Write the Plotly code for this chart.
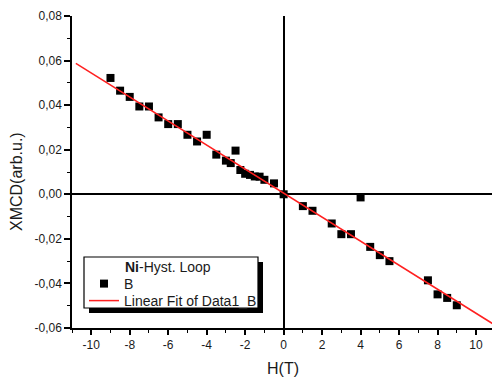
import plotly.graph_objects as go

# Measured XMCD signal of the Ni hysteresis loop
H_FIELD = [-9.0, -8.5, -8.0, -7.5, -7.0, -6.5, -6.0, -5.5, -5.0, -4.5, -4.0,
           -3.5, -3.0, -2.75, -2.5, -2.25, -2.0, -1.75, -1.5, -1.25, -1.0, -0.5,
           0.0, 1.0, 1.5, 2.5, 3.0, 3.5, 4.0, 4.5, 5.0, 5.5, 7.5, 8.0, 8.5, 9.0]
XMCD = [0.0522, 0.0465, 0.0437, 0.0394, 0.0394, 0.0345, 0.0315, 0.0315, 0.0267,
        0.0237, 0.0267, 0.0178, 0.0151, 0.0140, 0.0196, 0.0109, 0.0092, 0.0087,
        0.0080, 0.0079, 0.0065, 0.0049, 0.0000, -0.0053, -0.0074, -0.0131,
        -0.0179, -0.0179, -0.0014, -0.0236, -0.0273, -0.0300, -0.0386, -0.0449,
        -0.0465, -0.0498]

# Linear fit parameters (slope in arb.u./T, intercept in arb.u.)
FIT_SLOPE = -0.00539
FIT_INTERCEPT = 0.0005
FIT_DOMAIN = [-10.8, 11.0]

X_TICKS = [-10, -8, -6, -4, -2, 0, 2, 4, 6, 8, 10]
X_TICK_LABELS = ["-10", "-8", "-6", "-4", "-2", "0", "2", "4", "6", "8", "10"]
Y_TICKS = [-0.06, -0.04, -0.02, 0.0, 0.02, 0.04, 0.06, 0.08]
Y_TICK_LABELS = ["-0,06", "-0,04", "-0,02", "0,00", "0,02", "0,04", "0,06", "0,08"]

X_RANGE = [-11, 10.83]
Y_RANGE = [-0.06, 0.08]

FONT = "Arial"
INK = "#1a1a1a"

fit_y = [FIT_SLOPE * h + FIT_INTERCEPT for h in FIT_DOMAIN]

fig = go.Figure()
fig.add_trace(go.Scatter(
    x=H_FIELD, y=XMCD, mode="markers", name="B", legend="legend",
    marker=dict(symbol="square", size=8, color="black", line=dict(width=0)),
))
fig.add_trace(go.Scatter(
    x=FIT_DOMAIN, y=fit_y, mode="lines", name="Linear Fit of Data1_B",
    legend="legend2",
    line=dict(color="#ff2020", width=1.5),
))

W, Hh = 492, 378
ML, MR, MT, MB = 72, 0, 16, 50
PW, PH = W - ML - MR, Hh - MT - MB


def px(x):
    return (x - ML) / PW


def py(y):
    return (Hh - MB - y) / PH


tick_font = dict(family=FONT, size=12, color=INK)
legend_style = dict(
    xanchor="left", yanchor="top",
    bgcolor="rgba(0,0,0,0)", borderwidth=0,
    tracegroupgap=0, itemwidth=30,
    font=dict(family=FONT, size=14, color=INK),
)

fig.update_layout(
    width=W, height=Hh,
    margin=dict(l=ML, r=MR, t=MT, b=MB),
    paper_bgcolor="white", plot_bgcolor="white",
    font=dict(family=FONT, color=INK),
    showlegend=True,
    legend=dict(x=px(84), y=py(268), **legend_style),
    legend2=dict(x=px(84), y=py(285), **legend_style),
    xaxis=dict(
        range=X_RANGE, tickvals=X_TICKS, ticktext=X_TICK_LABELS,
        ticks="outside", ticklen=5, tickwidth=1.5, tickcolor="black",
        minor=dict(dtick=1, ticks="outside", ticklen=3, tickwidth=1.2, tickcolor="black"),
        showline=True, linecolor="black", linewidth=1.5,
        zeroline=True, zerolinecolor="black", zerolinewidth=1.5,
        showgrid=False, tickfont=tick_font,
    ),
    yaxis=dict(
        range=Y_RANGE, tickvals=Y_TICKS, ticktext=Y_TICK_LABELS,
        ticks="outside", ticklen=6, tickwidth=1.5, tickcolor="black",
        minor=dict(dtick=0.01, ticks="outside", ticklen=3, tickwidth=1.2, tickcolor="black"),
        showline=True, linecolor="black", linewidth=1.5,
        zeroline=True, zerolinecolor="black", zerolinewidth=1.5,
        showgrid=False, tickfont=tick_font,
    ),
    xaxis2=dict(
        overlaying="x", side="top", anchor="y", range=X_RANGE,
        tickvals=X_TICKS, showticklabels=False,
        ticks="inside", ticklen=7, tickwidth=1.5, tickcolor="black",
        minor=dict(dtick=1, ticks="inside", ticklen=4, tickwidth=1.2, tickcolor="black"),
        showline=True, linecolor="black", linewidth=1.5,
        zeroline=False, showgrid=False,
    ),
    yaxis2=dict(
        overlaying="y", side="right", anchor="x", range=Y_RANGE,
        tickvals=Y_TICKS, showticklabels=False,
        ticks="inside", ticklen=4, tickwidth=1.5, tickcolor="black",
        minor=dict(dtick=0.01, ticks="inside", ticklen=2, tickwidth=1.2, tickcolor="black"),
        showline=False, zeroline=False, showgrid=False,
    ),
)

# Legend frame with drop shadow
fig.add_shape(type="rect", xref="paper", yref="paper",
              x0=px(89), x1=px(263), y0=py(313), y1=py(262),
              fillcolor="black", line=dict(width=0), layer="above")
fig.add_shape(type="rect", xref="paper", yref="paper",
              x0=px(84), x1=px(258), y0=py(308), y1=py(257),
              fillcolor="white", line=dict(color="black", width=1.2), layer="above")

fig.add_annotation(text="<b>Ni</b>-Hyst. Loop", xref="paper", yref="paper",
                   x=px(123), y=py(267), xanchor="left", yanchor="middle",
                   showarrow=False, font=dict(family=FONT, size=14, color=INK))

# Axis titles
fig.add_annotation(text="H(T)", xref="paper", yref="paper",
                   x=px(283), y=py(368), xanchor="center", yanchor="middle",
                   showarrow=False, font=dict(family=FONT, size=16, color=INK))
fig.add_annotation(text="XMCD(arb.u.)", xref="paper", yref="paper",
                   x=px(16), y=py(182), xanchor="center", yanchor="middle",
                   textangle=-90, showarrow=False,
                   font=dict(family=FONT, size=16, color=INK))

fig.write_html("out.html")
